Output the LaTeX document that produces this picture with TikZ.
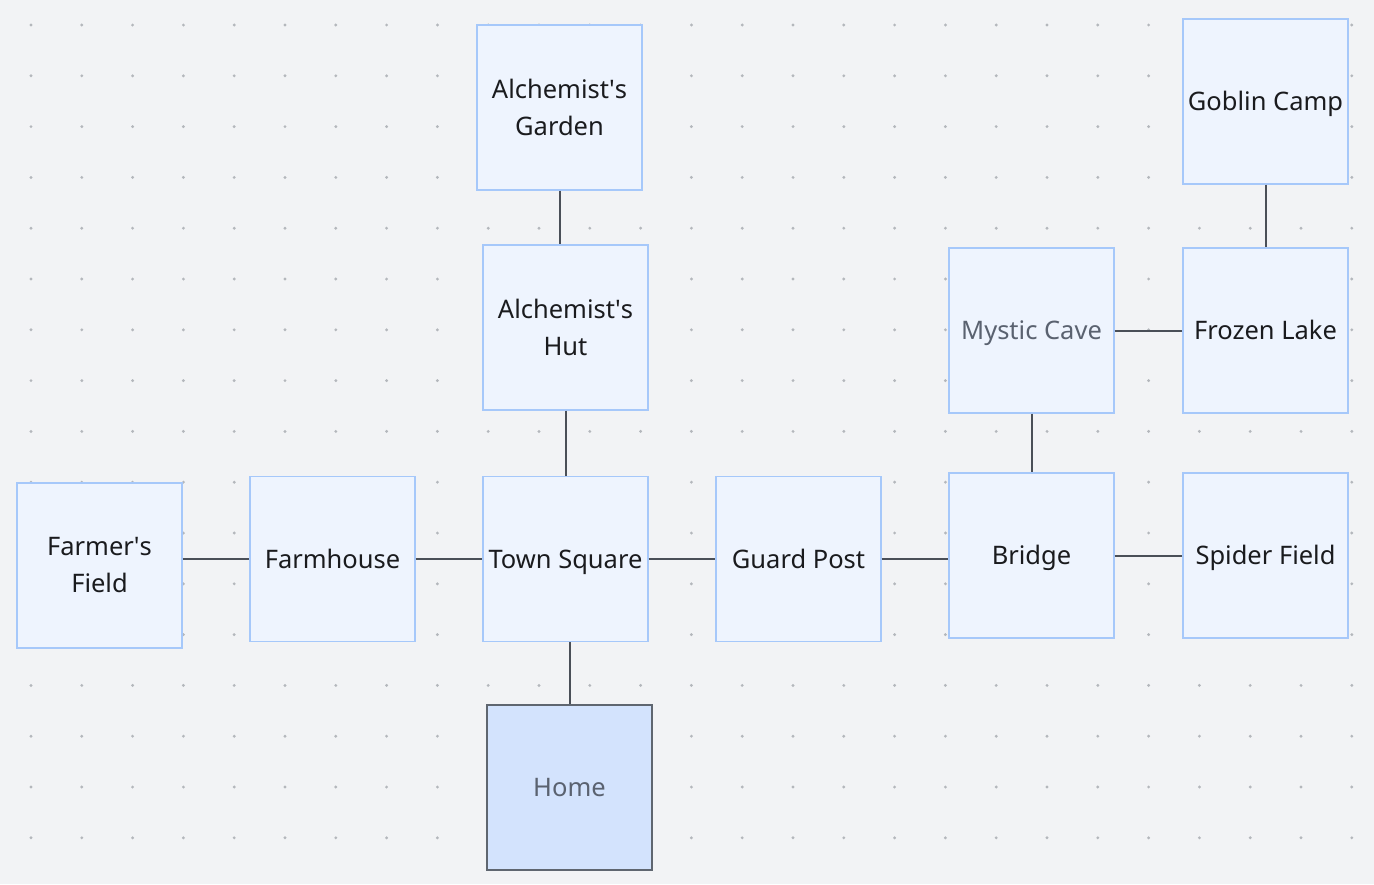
\documentclass[tikz,border=0pt]{standalone}
\usepackage{fontspec}
\setmainfont{Noto Sans}
\definecolor{bgc}{HTML}{F2F3F5}
\definecolor{dotc}{HTML}{B4B7BC}
\definecolor{boxfill}{HTML}{EEF4FE}
\definecolor{boxdraw}{HTML}{A6C8FA}
\definecolor{homefill}{HTML}{D3E3FD}
\definecolor{homedraw}{HTML}{5F6670}
\definecolor{linec}{HTML}{4A4F57}
\definecolor{txt}{HTML}{1A1B1E}
\definecolor{greytxt}{HTML}{5A6270}
\begin{document}
\begin{tikzpicture}[x=1pt,y=-1pt,
  roombase/.style={draw=boxdraw,fill=boxfill,line width=1.3pt,minimum width=165pt,minimum height=165pt,
    inner sep=0pt,align=center,text=txt,font=\fontsize{25.5}{37}\selectfont},
  room/.style={roombase,text height=18.2pt,text depth=0pt},
  room2/.style={roombase},
  homeroom/.style={room,draw=homedraw,fill=homefill,text=greytxt},
  link/.style={draw=linec,line width=2pt}]
\fill[bgc] (0,0) rectangle (1374,884);
\useasboundingbox (0,0) rectangle (1374,884);
\foreach \i in {0,...,26}{
  \foreach \j in {0,...,16}{
    \fill[dotc] ({31+50.8*\i},{25+50.8*\j}) circle (1.6pt);
  }
}
\node[room2] (garden) at (559.5,107.5) {Alchemist\textquotesingle s\\Garden};
\node[room2] (hut) at (565.5,327.5) {Alchemist\textquotesingle s\\Hut};
\node[room] (goblin) at (1265.5,101.5) {Goblin Camp};
\node[room,text=greytxt] (mystic) at (1031.5,330.5) {Mystic Cave};
\node[room] (frozen) at (1265.5,330.5) {Frozen Lake};
\node[room2] (farmer) at (99.5,565.5) {Farmer\textquotesingle s\\Field};
\node[room] (farmhouse) at (332.5,559) {Farmhouse};
\node[room] (town) at (565.5,559) {Town Square};
\node[room] (guard) at (798.5,559) {Guard Post};
\node[room] (bridge) at (1031.5,555.5) {Bridge};
\node[room] (spider) at (1265.5,555.5) {Spider Field};
\node[homeroom] (home) at (569.5,787.5) {Home};
\draw[link] (garden.south) -- (garden.south |- hut.north);
\draw[link] (hut.south) -- (town.north);
\draw[link] (town.south -| home.north) -- (home.north);
\draw[link] (farmer.east |- farmhouse.west) -- (farmhouse.west);
\draw[link] (farmhouse.east) -- (town.west);
\draw[link] (town.east) -- (guard.west);
\draw[link] (guard.east) -- (guard.east -| bridge.west);
\draw[link] (mystic.south) -- (bridge.north);
\draw[link] (bridge.east) -- (spider.west);
\draw[link] (mystic.east) -- (frozen.west);
\draw[link] (goblin.south) -- (frozen.north);
\end{tikzpicture}
\end{document}
